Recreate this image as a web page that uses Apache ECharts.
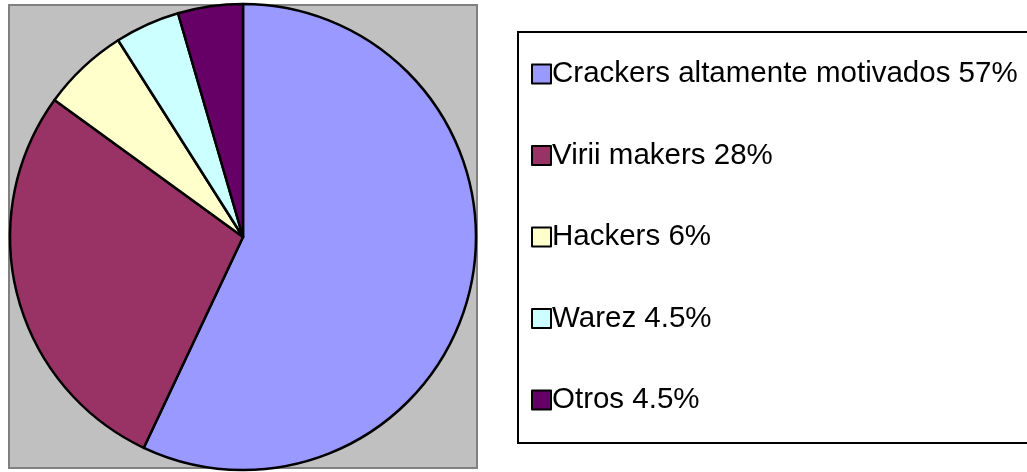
<!DOCTYPE html>
<html>
<head>
<meta charset="utf-8">
<script src="https://cdn.jsdelivr.net/npm/echarts@6/dist/echarts.min.js"></script>
<style>
  html, body { margin: 0; padding: 0; background: #fff; }
  #chart { width: 1027px; height: 472px; }
</style>
</head>
<body>
<div id="chart"></div>
<script>
const categories = ['Crackers altamente motivados', 'Virii makers', 'Hackers', 'Warez', 'Otros'];
const values = [57, 28, 6, 4.5, 4.5];
const colors = ['#9999FF', '#993366', '#FFFFCC', '#CCFFFF', '#660066'];

const data = categories.map((name, i) => ({
    name: name,
    value: values[i],
    itemStyle: { color: colors[i] }
}));

const option = {
    animation: false,
    graphic: [
        {
            type: 'rect',
            z: -10,
            shape: { x: 9, y: 5, width: 468, height: 463 },
            style: { fill: '#C0C0C0', stroke: '#808080', lineWidth: 2 }
        },
        {
            // legend frame runs past the right edge of the picture
            type: 'rect',
            z: -10,
            shape: { x: 518, y: 32, width: 530, height: 411 },
            style: { fill: '#fff', stroke: '#000', lineWidth: 2 }
        }
    ],
    legend: {
        orient: 'vertical',
        left: 526,
        top: 54,
        itemWidth: 19,
        itemHeight: 19,
        itemGap: 51.5,
        icon: 'rect',
        selectedMode: false,
        formatter: (name) => name + ' ' + values[categories.indexOf(name)] + '%',
        textStyle: {
            fontFamily: 'Liberation Sans, Arial, sans-serif',
            fontSize: 29.5,
            color: '#000',
            padding: [0, 0, 0, -4]
        },
        data: categories
    },
    series: [
        {
            type: 'pie',
            center: [243, 237],
            radius: 233,
            startAngle: 90,
            clockwise: true,
            label: { show: false },
            labelLine: { show: false },
            emphasis: { disabled: true },
            itemStyle: { borderColor: '#000', borderWidth: 2.5 },
            data: data
        }
    ]
};

const myChart = echarts.init(document.getElementById('chart'));
myChart.setOption(option);
</script>
</body>
</html>
